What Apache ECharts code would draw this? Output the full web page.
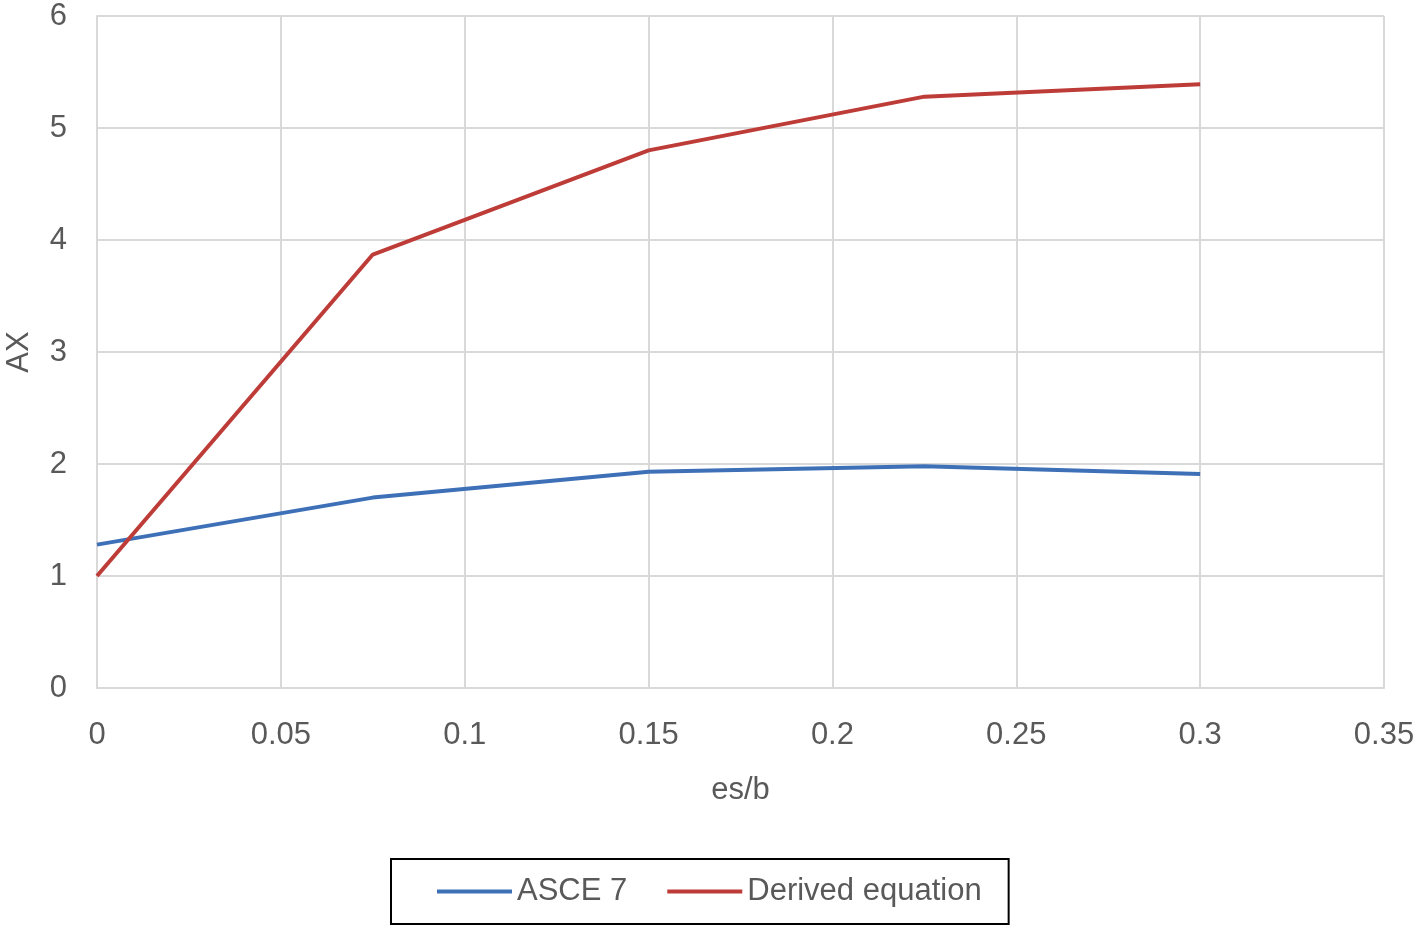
<!DOCTYPE html>
<html>
<head>
<meta charset="utf-8">
<script src="https://cdn.jsdelivr.net/npm/echarts@6/dist/echarts.min.js"></script>
<style>html,body{margin:0;padding:0;background:#fff}#c{width:1418px;height:930px}</style>
</head>
<body>
<div id="c"></div>
<script>
const xValues = [0, 0.075, 0.15, 0.225, 0.3];
const asce7 = [1.28, 1.70, 1.93, 1.98, 1.91];
const derived = [1.00, 3.87, 4.80, 5.28, 5.39];
const seriesNames = ['ASCE 7', 'Derived equation'];

const FONT = "'Liberation Sans', Arial, sans-serif";
const FS = 31;
const chart = echarts.init(document.getElementById('c'));
chart.setOption({
  animation: false,
  backgroundColor: '#fff',
  textStyle: { fontFamily: FONT },
  grid: { left: 97, right: 34, top: 16, bottom: 242, containLabel: false, outerBoundsMode: 'none' },
  xAxis: {
    type: 'value', min: 0, max: 0.35, interval: 0.05,
    name: 'es/b', nameLocation: 'middle', nameGap: 87,
    nameTextStyle: { fontSize: FS, color: '#595959', fontFamily: FONT },
    axisLine: { show: true, lineStyle: { color: '#d9d9d9', width: 2 } },
    axisTick: { show: false },
    axisLabel: { fontSize: FS, color: '#595959', margin: 32, fontFamily: FONT },
    splitLine: { show: true, lineStyle: { color: '#d9d9d9', width: 2 } }
  },
  yAxis: {
    type: 'value', min: 0, max: 6, interval: 1,
    name: 'AX', nameLocation: 'middle', nameGap: 62,
    nameTextStyle: { fontSize: FS, color: '#595959', fontFamily: FONT },
    axisLine: { show: true, lineStyle: { color: '#d9d9d9', width: 2 } },
    axisTick: { show: false },
    axisLabel: { fontSize: FS, color: '#595959', margin: 30, fontFamily: FONT },
    splitLine: { show: true, lineStyle: { color: '#d9d9d9', width: 2 } }
  },
  legend: {
    left: 391, top: 859,
    data: seriesNames,
    icon: 'rect', itemWidth: 75, itemHeight: 4, itemGap: 40,
    padding: [17, 27, 17, 46],
    borderColor: '#000', borderWidth: 2,
    textStyle: { fontSize: FS, color: '#595959', fontFamily: FONT }
  },
  series: [
    { name: seriesNames[0], type: 'line', symbol: 'none',
      data: xValues.map((x, i) => [x, asce7[i]]),
      lineStyle: { color: '#3e70b8', width: 4 }, itemStyle: { color: '#3e70b8' } },
    { name: seriesNames[1], type: 'line', symbol: 'none',
      data: xValues.map((x, i) => [x, derived[i]]),
      lineStyle: { color: '#be3c38', width: 4 }, itemStyle: { color: '#be3c38' } }
  ]
});
</script>
</body>
</html>
